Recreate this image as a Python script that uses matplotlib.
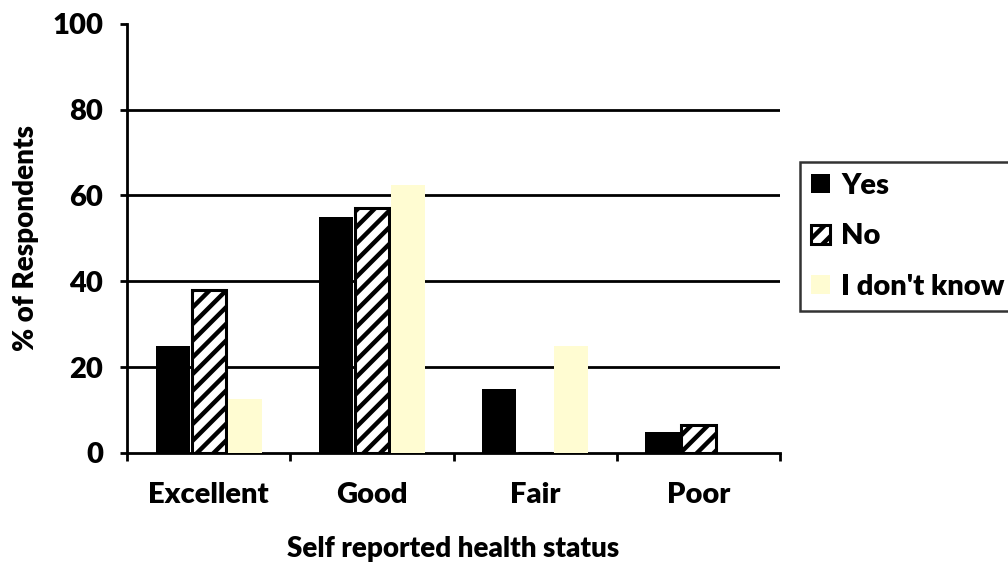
import matplotlib
matplotlib.use("Agg")
import matplotlib.pyplot as plt
import numpy as np

categories = ["Excellent", "Good", "Fair", "Poor"]
series_names = ["Yes", "No", "I don't know"]
yes_values = [25, 55, 15, 4.8]
no_values = [38, 57, 0, 6.4]
dont_know_values = [12.5, 62.5, 25, 0]
y_ticks = [0, 20, 40, 60, 80, 100]

plt.rcParams["font.family"] = ["Lato", "DejaVu Sans"]
plt.rcParams["font.weight"] = "bold"
plt.rcParams["hatch.linewidth"] = 3.2

FS = 21
WT = "heavy"

fig = plt.figure(figsize=(10.08, 5.64), dpi=100)
ax = fig.add_axes([0.126, 0.197, 0.648, 0.761])

x = np.arange(len(categories))
w = 0.21
styles = [
    dict(color="black", edgecolor="black", linewidth=0),
    dict(color="white", edgecolor="black", linewidth=2.2, hatch="//"),
    dict(color="#FFFCD2", edgecolor="none", linewidth=0),
]
for i, (vals, name, st) in enumerate(zip([yes_values, no_values, dont_know_values], series_names, styles)):
    ax.bar(x + (i - 1) * w * 1.05, vals, width=w, label=name, zorder=3, **st)

ax.set_xlim(-0.5, len(categories) - 0.5)
ax.set_ylim(0, 100)
ax.set_yticks(y_ticks)
ax.set_yticklabels([str(t) for t in y_ticks], fontsize=FS, fontweight=WT)
ax.set_xticks(x)
ax.set_xticklabels(categories, fontsize=FS, fontweight=WT)
ax.set_xticks(np.arange(len(categories) + 1) - 0.5, minor=True)
ax.tick_params(axis="x", which="major", length=0, pad=21)
ax.tick_params(axis="x", which="minor", length=6, width=2, direction="out")
ax.tick_params(axis="y", length=5, width=2, direction="out", pad=12)

ax.set_axisbelow(True)
ax.yaxis.grid(True, color="black", linewidth=2)
ax.yaxis.get_gridlines()[-1].set_visible(False)
ax.yaxis.get_gridlines()[0].set_visible(False)

for s in ["top", "right"]:
    ax.spines[s].set_visible(False)
for s in ["left", "bottom"]:
    ax.spines[s].set_linewidth(2)

ax.set_xlabel("Self reported health status", fontsize=20, fontweight=WT, labelpad=20)
ax.set_ylabel("% of Respondents", fontsize=20, fontweight=WT, labelpad=10)

leg = fig.legend(loc="upper left", bbox_to_anchor=(0.794, 0.713), fontsize=FS,
                 frameon=True, fancybox=False, edgecolor="black",
                 handlelength=0.62, handleheight=0.62, handletextpad=0.4,
                 labelspacing=0.84, borderpad=0.38, borderaxespad=0)
leg.get_frame().set_linewidth(1.8)
for t in leg.get_texts():
    t.set_fontweight(WT)

fig.savefig("out.png", dpi=100)
